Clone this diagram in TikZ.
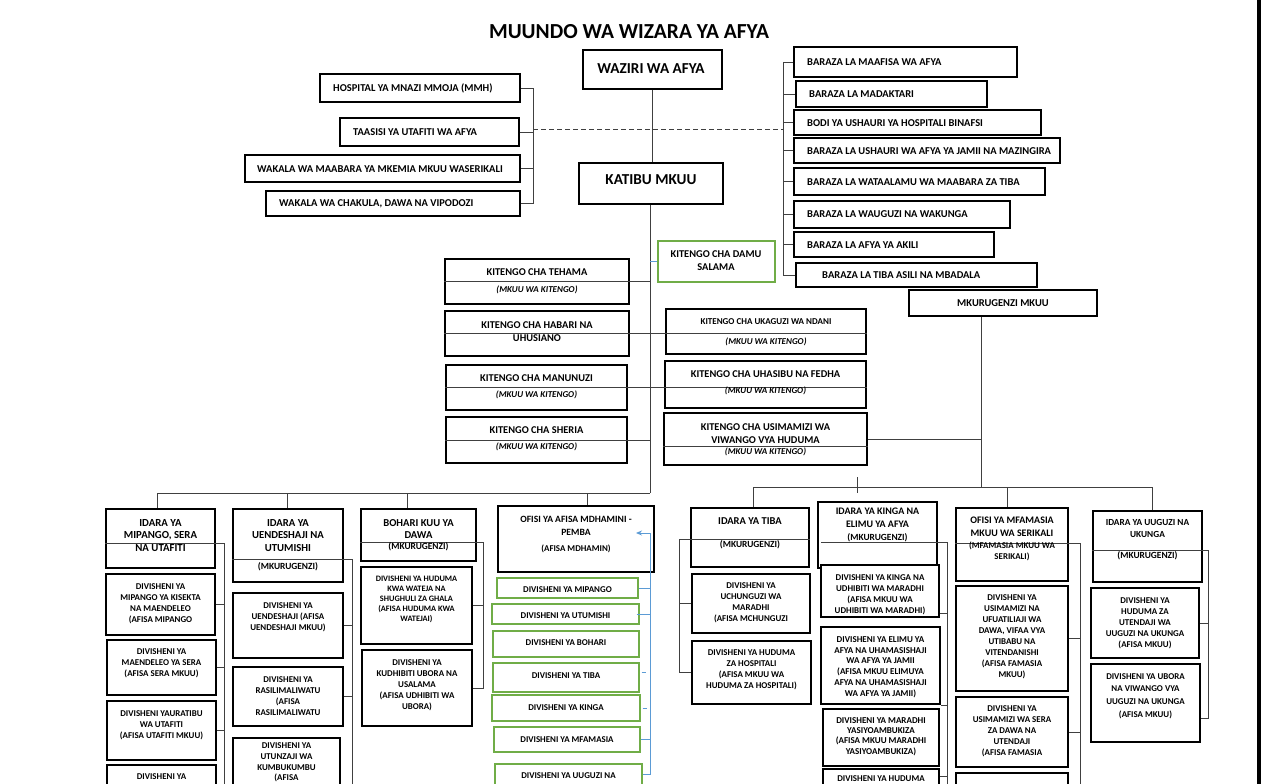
\documentclass[tikz,border=0pt]{standalone}
\usepackage{fontspec}
\setmainfont{Carlito}
\usetikzlibrary{arrows.meta}
\definecolor{grn}{HTML}{70AD47}
\definecolor{blu}{HTML}{5B9BD5}
\newcommand{\fTitle}{\fontsize{21.4}{25}\selectfont\bfseries}
\newcommand{\fHead}{\fontsize{15.2}{18}\selectfont\bfseries}
\newcommand{\fTop}{\fontsize{10.5}{12}\selectfont\bfseries}
\newcommand{\fKit}{\fontsize{10.4}{13}\selectfont\bfseries}
\newcommand{\fSub}{\fontsize{9}{10}\selectfont\bfseries\itshape}
\newcommand{\fIdr}[1]{\fontsize{#1}{12.5}\selectfont\bfseries}
\newcommand{\fDiv}{\fontsize{8.9}{11}\selectfont\bfseries}
\newcommand{\fSm}{\fontsize{8.3}{10}\selectfont\bfseries}
% box from corner (x1,y1) to (x2,y2)
\newcommand{\obox}[6][bx]{\node[#1,minimum width={(#5)-(#3)},minimum height={(#6)-(#4)}] (#2) at ({((#3)+(#5))/2},{((#4)+(#6))/2}) {};}
% text cut off by its box
\newcommand{\ctxt}[5][]{\begin{scope}\clip ([shift={(2pt,2pt)}]#2.south west) rectangle ([shift={(-2pt,-2pt)}]#2.north east);\node[tx,#1] (t#2) at (#3,#4) {#5};\end{scope}}
\tikzset{
	bx/.style={draw, line width=1.8pt, fill=white, inner sep=0pt},
	gbx/.style={draw=grn, line width=1.1pt, fill=white, inner sep=0pt},
	tx/.style={align=center, inner sep=0pt, font=\fDiv},
	ln/.style={draw=black!75, line width=0.8pt},
	bl/.style={draw=blu, line width=0.9pt}
}
\begin{document}
\begin{tikzpicture}[x=1pt,y=-1pt]
	\useasboundingbox (0,0) rectangle (1261,784);
	\fill[white] (0,0) rectangle (1261,784);
	\clip (0,0) rectangle (1261,784);
	\node[font=\fTitle] (title) at (629,32) {MUUNDO WA WIZARA YA AFYA};
	% boxes
	\obox{waziri}{583}{50}{722}{89}
	\obox{katibu}{579}{163}{723}{204}
	\obox{mmh}{320}{74}{520}{102}
	\obox{taasisi}{340}{118}{519}{146}
	\obox{mkemia}{245}{155}{520}{182}
	\obox{chakula}{266}{191}{520}{216}
	\obox{bz1}{794}{47}{1017}{77}
	\obox{bz2}{796}{81}{987}{107}
	\obox{bz3}{794}{110}{1041}{135}
	\obox{bz4}{794}{138}{1060}{163}
	\obox{bz5}{794}{168}{1045}{195}
	\obox{bz6}{794}{201}{1010}{228}
	\obox{bz7}{794}{232}{994}{257}
	\obox{bz8}{796}{263}{1037}{287}
	\obox[gbx]{damu}{658}{241}{775}{282}
	\obox{tehama}{445}{259}{629}{304}
	\obox{habari}{445}{311}{629}{356}
	\obox{manunuzi}{446}{365}{627}{410}
	\obox{sheria}{446}{417}{627}{463}
	\obox{ukaguzi}{666}{309}{866}{354}
	\obox{uhasibu}{665}{361}{866}{408}
	\obox{usimamizi}{664}{413}{867}{465}
	\obox{mkuu}{909}{290}{1097}{316}
	\obox{i1}{106}{509}{215}{568}
	\obox{d11}{106}{574}{215}{635}
	\obox{d12}{107}{640}{216}{695}
	\obox{d13}{107}{701}{216}{760}
	\obox{d14}{107}{765}{216}{810}
	\obox{i2}{233}{509}{343}{582}
	\obox{d21}{233}{593}{343}{658}
	\obox{d22}{233}{667}{343}{726}
	\obox{d23}{233}{738}{340}{810}
	\obox{i3}{361}{509}{476}{561}
	\obox{d31}{361}{567}{472}{644}
	\obox{d32}{362}{650}{472}{726}
	\obox{ofisi}{498}{506}{654}{572}
	\obox[gbx]{g1}{497}{578}{638}{598}
	\obox[gbx]{g2}{492}{604}{639}{624}
	\obox[gbx]{g3}{493}{631}{639}{657}
	\obox[gbx]{g4}{493}{663}{639}{692}
	\obox[gbx]{g5}{492}{695}{640}{721}
	\obox[gbx]{g6}{494}{727}{640}{752}
	\obox[gbx]{g7}{495}{764}{642}{800}
	\obox{i5}{691}{508}{809}{567}
	\obox{d51}{692}{574}{810}{633}
	\obox{d52}{692}{641}{811}{704}
	\obox{i6}{818}{502}{937}{568}
	\obox{d61}{821}{565}{939}{617}
	\obox{d62}{821}{627}{940}{704}
	\obox{d63}{823}{709}{939}{766}
	\obox{d64}{823}{769}{939}{810}
	\obox{i7}{956}{508}{1068}{581}
	\obox{d71}{956}{586}{1068}{691}
	\obox{d72}{956}{697}{1068}{767}
	\obox{d73}{956}{773}{1068}{810}
	\obox{i8}{1093}{511}{1202}{582}
	\obox{d81}{1091}{588}{1199}{658}
	\obox{d82}{1091}{664}{1200}{742}
	% connectors
	\coordinate (cv) at (650,493);
	\coordinate (lk) at (533,129);
	\coordinate (rk) at (783,129);
	\coordinate (rb) at (981,487);
	\draw[ln] (waziri.south) -- (waziri.south |- katibu.north);
	\draw[ln] (katibu.south -| cv) -- (cv);
	\foreach \n in {mmh,taasisi,mkemia,chakula} \draw[ln] (\n.east) -- (\n.east -| lk);
	\draw[ln] (mmh.east -| lk) -- (chakula.east -| lk);
	\foreach \n in {1,...,8} \draw[ln] (bz\n.west) -- (bz\n.west -| rk);
	\draw[ln] (bz1.west -| rk) -- (bz8.west -| rk);
	\draw[ln, dash pattern=on 5pt off 3pt] (lk) -- (rk);
	\draw[bl] (damu.west -| cv) -- (damu.west);
	\draw[ln] (tehama.west) -- (tehama.west -| cv);
	\draw[ln] (habari.west) -- (habari.west -| ukaguzi.east);
	\draw[ln] (manunuzi.west) -- (manunuzi.west -| uhasibu.east);
	\draw[ln] (sheria.west) -- (sheria.west -| cv);
	\draw[ln] ([yshift=-7pt]usimamizi.west) -- ([yshift=-7pt]usimamizi.east);
	\draw[ln] (mkuu.south -| rb) -- (rb);
	\draw[ln] (usimamizi.east) -- (usimamizi.east -| rb);
	\coordinate (lb1) at (157,493);
	\coordinate (lb2) at (287,493);
	\coordinate (lb3) at (407,493);
	\coordinate (lb4) at (587,493);
	\draw[ln] (lb1) -- (cv);
	\foreach \p/\b in {lb1/i1,lb2/i2,lb3/i3,lb4/ofisi} \draw[ln] (\p) -- (\p |- \b.north);
	\coordinate (rb1) at (753,487);
	\coordinate (rb2) at (1007,487);
	\coordinate (rb3) at (1152,487);
	\coordinate (kg) at (857,477);
	\draw[ln] (rb1) -- (rb3);
	\foreach \p/\b in {rb1/i5,rb2/i7,rb3/i8} \draw[ln] (\p) -- (\p |- \b.north);
	\draw[ln] (kg) -- ++(0,16);
	\coordinate (c1) at (224,543);
	\coordinate (c2) at (352,559);
	\coordinate (c3) at (483,542);
	\coordinate (c5) at (679,539);
	\coordinate (c6) at (947,542);
	\coordinate (c7) at (1080,543);
	\coordinate (c8) at (1208,550);
	\draw[ln] (i1.west |- c1) -- (c1) -- ++(0,250);
	\foreach \b in {d11,d12,d13} \draw[ln] (\b.east) -- (\b.east -| c1);
	\draw[ln] (i2.west |- c2) -- (c2) -- ++(0,250);
	\foreach \b in {d21,d22} \draw[ln] (\b.east) -- (\b.east -| c2);
	\draw[ln] (i3.west |- c3) -- (c3) |- (d32.east);
	\draw[ln] (d31.east) -- (d31.east -| c3);
	\draw[ln] (i5.east |- c5) -- (c5) |- (d52.west);
	\draw[ln] (d51.west) -- (d51.west -| c5);
	\draw[ln] ([xshift=4pt]i6.west |- c6) -- (c6) -- ++(0,250);
	\draw[ln] ([yshift=5pt]d61.south east) -- ([yshift=5pt]d61.south east -| c6);
	\draw[ln] (d62.south east) -- (d62.south east -| c6);
	\draw[ln] ([yshift=-8pt]d64.north east) -- ([yshift=-8pt]d64.north east -| c6);
	\draw[ln] (i7.west |- c7) -- (c7) -- ++(0,250);
	\foreach \b in {d71,d72} \draw[ln] (\b.east) -- (\b.east -| c7);
	\draw[ln] (i8.west |- c8) -- (c8) |- ([yshift=-15pt]d82.east);
	\draw[ln] (d81.east) -- (d81.east -| c8);
	\coordinate (bv) at (650,533);
	\draw[bl,-{Stealth[length=6pt,width=5pt]}] ([yshift=8pt]g7.east) -- ([yshift=8pt]g7.east -| bv) -- (bv) -- ++(-14,0);
	\draw[bl] (g1.east) -- (g1.east -| bv);
	\draw[bl] ([xshift=-3pt]g2.east) -- (g2.east -| bv);
	\draw[bl] (g6.east) -- (g6.east -| bv);
	\draw[bl] ([shift={(2pt,5pt)}]g4.east) -- ++(4,0);
	\draw[bl] ([xshift=2pt]g5.east) -- ++(4,0);
	\fill (1257,0) rectangle (1261,784);
	% texts
	\node[tx,font=\fHead] (twaziri) at (651,69) {WAZIRI WA AFYA};
	\node[tx,font=\fHead] (tkatibu) at (651,180) {KATIBU MKUU};
	\node[tx,font=\fTop,anchor=west] (tmmh) at (333,88) {HOSPITAL YA MNAZI MMOJA (MMH)};
	\node[tx,font=\fTop,anchor=west] (ttaasisi) at (353,132) {TAASISI YA UTAFITI WA AFYA};
	\node[tx,font=\fTop,anchor=west] (tmkemia) at (257,169) {WAKALA WA MAABARA YA MKEMIA MKUU WASERIKALI};
	\node[tx,font=\fTop,anchor=west] (tchakula) at (279,204) {WAKALA WA CHAKULA, DAWA NA VIPODOZI};
	\node[tx,font=\fTop,anchor=west] (tbz1) at (807,62) {BARAZA LA MAAFISA WA AFYA};
	\node[tx,font=\fTop,anchor=west] (tbz2) at (809,94) {BARAZA LA MADAKTARI};
	\node[tx,font=\fTop,anchor=west] (tbz3) at (807,123) {BODI YA USHAURI YA HOSPITALI BINAFSI};
	\node[tx,font=\fTop,anchor=west] (tbz4) at (807,151) {BARAZA LA USHAURI WA AFYA YA JAMII NA MAZINGIRA};
	\node[tx,font=\fTop,anchor=west] (tbz5) at (807,182) {BARAZA LA WATAALAMU WA MAABARA ZA TIBA};
	\node[tx,font=\fTop,anchor=west] (tbz6) at (807,214) {BARAZA LA WAUGUZI NA WAKUNGA};
	\node[tx,font=\fTop,anchor=west] (tbz7) at (807,245) {BARAZA LA AFYA YA AKILI};
	\node[tx,font=\fTop,anchor=west] (tbz8) at (822,275) {BARAZA LA TIBA ASILI NA MBADALA};
	\node[tx,font=\fKit] (tdamu) at (716,261) {KITENGO CHA DAMU\\SALAMA};
	\node[tx,font=\fKit] (ttehama) at (537,272) {KITENGO CHA TEHAMA};
	\node[tx,font=\fSub] (stehama) at (537,290) {(MKUU WA KITENGO)};
	\node[tx,font=\fKit] (thabari) at (537,331.5) {KITENGO CHA HABARI NA\\UHUSIANO};
	\node[tx,font=\fKit] (tmanunuzi) at (536.5,378) {KITENGO CHA MANUNUZI};
	\node[tx,font=\fSub] (smanunuzi) at (536.5,395) {(MKUU WA KITENGO)};
	\node[tx,font=\fKit] (tsheria) at (536.5,430) {KITENGO CHA SHERIA};
	\node[tx,font=\fSub] (ssheria) at (536.5,447) {(MKUU WA KITENGO)};
	\node[tx,font=\fontsize{9}{10}\selectfont\bfseries] (tukaguzi) at (766,322) {KITENGO CHA UKAGUZI WA NDANI};
	\node[tx,font=\fSub] (sukaguzi) at (766,342) {(MKUU WA KITENGO)};
	\node[tx,font=\fKit] (tuhasibu) at (765.5,374) {KITENGO CHA UHASIBU NA FEDHA};
	\node[tx,font=\fSub] (suhasibu) at (765.5,391) {(MKUU WA KITENGO)};
	\node[tx,font=\fKit] (tusimamizi) at (765.5,433.5) {KITENGO CHA USIMAMIZI WA\\VIWANGO VYA HUDUMA};
	\node[tx,font=\fSub] (susimamizi) at (765.5,452) {(MKUU WA KITENGO)};
	\node[tx,font=\fTop] (tmkuu) at (1003,303) {MKURUGENZI MKUU};
	\node[tx,font=\fIdr{10.8}] (ti1) at (160.5,535.5) {IDARA YA\\MIPANGO, SERA\\NA UTAFITI};
	\node[tx] (td11) at (160.5,603.5) {DIVISHENI YA\\MIPANGO YA KISEKTA\\NA MAENDELEO\\(AFISA MIPANGO};
	\node[tx] (td12) at (161.5,663.5) {DIVISHENI YA\\MAENDELEO YA SERA\\(AFISA SERA MKUU)};
	\node[tx] (td13) at (161.5,725) {DIVISHENI YAURATIBU\\WA UTAFITI\\(AFISA UTAFITI MKUU)};
	\node[tx] (td14) at (161.5,777) {DIVISHENI YA};
	\node[tx,font=\fIdr{10.7}] (ti2) at (288,535.5) {IDARA YA\\UENDESHAJI NA\\UTUMISHI};
	\node[tx,font=\fontsize{9.4}{11}\selectfont\bfseries] (si2) at (288,567) {(MKURUGENZI)};
	\node[tx] (td21) at (288,617) {DIVISHENI YA\\UENDESHAJI (AFISA\\UENDESHAJI MKUU)};
	\node[tx] (td22) at (288,696.5) {DIVISHENI YA\\RASILIMALIWATU\\(AFISA\\RASILIMALIWATU};
	\node[tx,font=\fontsize{8.9}{10.6}\selectfont\bfseries] (td23) at (286.5,762.5) {DIVISHENI YA\\UTUNZAJI WA\\KUMBUKUMBU\\(AFISA};
	\node[tx,font=\fIdr{10.6}] (ti3) at (418.5,529) {BOHARI KUU YA\\DAWA};
	\node[tx,font=\fontsize{9.4}{11}\selectfont\bfseries] (si3) at (418.5,547) {(MKURUGENZI)};
	\node[tx,font=\fSm] (td31) at (416.5,599) {DIVISHENI YA HUDUMA\\KWA WATEJA NA\\SHUGHULI ZA GHALA\\(AFISA HUDUMA KWA\\WATEJAI)};
	\node[tx] (td32) at (417,685.5) {DIVISHENI YA\\KUDHIBITI UBORA NA\\USALAMA\\(AFISA UDHIBITI WA\\UBORA)};
	\node[tx,font=\fIdr{9.6}] (tofisi) at (576,526) {OFISI YA AFISA MDHAMINI -\\PEMBA};
	\node[tx] (sofisi) at (576,549) {(AFISA MDHAMIN)};
	\node[tx] (tg1) at (567.5,590) {DIVISHENI YA MIPANGO};
	\node[tx] (tg2) at (565.5,616) {DIVISHENI YA UTUMISHI};
	\node[tx] (tg3) at (566,643) {DIVISHENI YA BOHARI};
	\node[tx] (tg4) at (566,676) {DIVISHENI YA TIBA};
	\node[tx] (tg5) at (566,708) {DIVISHENI YA KINGA};
	\node[tx] (tg6) at (567,740) {DIVISHENI YA MFAMASIA};
	\node[tx] (tg7) at (568.5,776) {DIVISHENI YA UUGUZI NA};
	\node[tx,font=\fIdr{10.5}] (ti5) at (750,521) {IDARA YA TIBA};
	\node[tx,font=\fontsize{9.4}{11}\selectfont\bfseries] (si5) at (750,545) {(MKURUGENZI)};
	\node[tx] (td51) at (751,602.5) {DIVISHENI YA\\UCHUNGUZI WA\\MARADHI\\(AFISA MCHUNGUZI};
	\node[tx] (td52) at (751.5,669.5) {DIVISHENI YA HUDUMA\\ZA HOSPITALI\\(AFISA MKUU WA\\HUDUMA ZA HOSPITALI)};
	\node[tx,font=\fIdr{10}] (ti6) at (877.5,518) {IDARA YA KINGA NA\\ELIMU YA AFYA};
	\node[tx,font=\fontsize{9.4}{11}\selectfont\bfseries] (si6) at (877.5,538) {(MKURUGENZI)};
	\ctxt{d61}{880}{594.5}{DIVISHENI YA KINGA NA\\UDHIBITI WA MARADHI\\(AFISA MKUU WA\\UDHIBITI WA MARADHI)}
	\node[tx,font=\fontsize{9}{10.8}\selectfont\bfseries] (td62) at (880.5,667) {DIVISHENI YA ELIMU YA\\AFYA NA UHAMASISHAJI\\WA AFYA YA JAMII\\(AFISA MKUU ELIMUYA\\AFYA NA UHAMASISHAJI\\WA AFYA YA JAMII)};
	\node[tx,font=\fontsize{9}{10.4}\selectfont\bfseries] (td63) at (881,736.5) {DIVISHENI YA MARADHI\\YASIYOAMBUKIZA\\(AFISA MKUU MARADHI\\YASIYOAMBUKIZA)};
	\node[tx] (td64) at (881,779) {DIVISHENI YA HUDUMA};
	\node[tx,font=\fIdr{10}] (ti7) at (1012,527) {OFISI YA MFAMASIA\\MKUU WA SERIKALI};
	\node[tx] (si7) at (1012,551.5) {(MFAMASIA MKUU WA\\SERIKALI)};
	\node[tx] (td71) at (1012,636.5) {DIVISHENI YA\\USIMAMIZI NA\\UFUATILIAJI WA\\DAWA, VIFAA VYA\\UTIBABU NA\\VITENDANISHI\\(AFISA FAMASIA\\MKUU)};
	\node[tx] (td72) at (1012,731) {DIVISHENI YA\\USIMAMIZI WA SERA\\ZA DAWA NA\\UTENDAJI\\(AFISA FAMASIA};
	\node[tx,font=\fIdr{9.3}] (ti8) at (1147.5,528.5) {IDARA YA UUGUZI NA\\UKUNGA};
	\node[tx,font=\fontsize{9.4}{11}\selectfont\bfseries] (si8) at (1147.5,556) {(MKURUGENZI)};
	\node[tx] (td81) at (1145,623) {DIVISHENI YA\\HUDUMA ZA\\UTENDAJI WA\\UUGUZI NA UKUNGA\\(AFISA MKUU)};
	\node[tx,font=\fontsize{8.9}{12.6}\selectfont\bfseries] (td82) at (1145.5,696) {DIVISHENI YA UBORA\\NA VIWANGO VYA\\UUGUZI NA UKUNGA\\(AFISA MKUU)};
\end{tikzpicture}
\end{document}
